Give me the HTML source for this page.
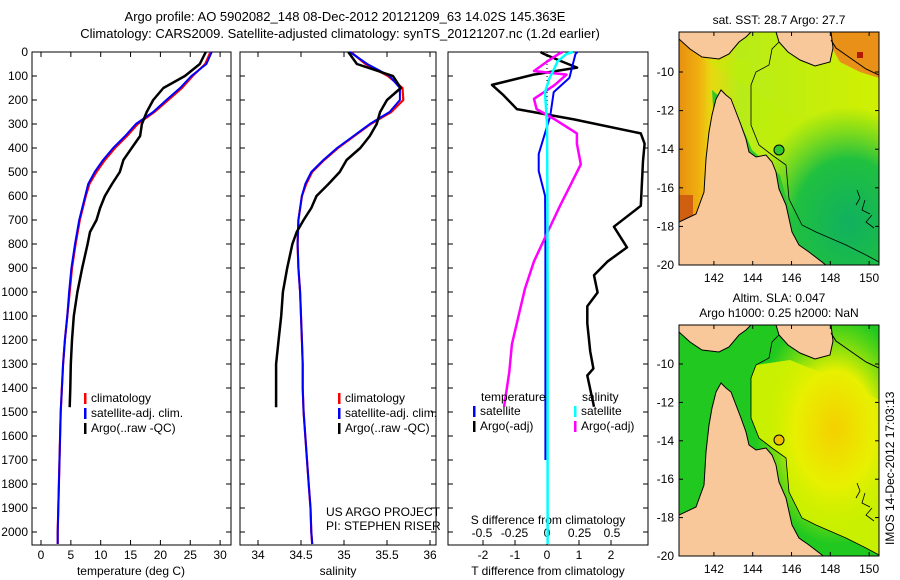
<!DOCTYPE html>
<html><head><meta charset="utf-8"><style>
body{margin:0;background:#fff}
svg{display:block;font-family:"Liberation Sans",sans-serif}
text{font-size:12px;fill:#000}
</style></head><body>
<svg id="c" width="900" height="580" viewBox="0 0 900 580">
<defs>
<linearGradient id="sstL" x1="0" x2="1" y1="0" y2="0"><stop offset="0" stop-color="#e89010"/><stop offset="0.1" stop-color="#f0b010"/><stop offset="0.16" stop-color="#e8d810"/><stop offset="0.3" stop-color="#b8ec18"/><stop offset="1" stop-color="#d0f000"/></linearGradient>
<radialGradient id="sstG" cx="0.85" cy="0.82" r="0.5"><stop offset="0" stop-color="#10b060"/><stop offset="0.55" stop-color="#20c040"/><stop offset="1" stop-color="#40c830" stop-opacity="0"/></radialGradient>
<radialGradient id="slaY" cx="0.72" cy="0.45" r="0.5"><stop offset="0" stop-color="#f4d000"/><stop offset="0.5" stop-color="#e8f000"/><stop offset="1" stop-color="#c0f000" stop-opacity="0"/></radialGradient>
<clipPath id="m1"><rect x="679" y="32" width="200" height="233"/></clipPath>
<clipPath id="m2"><rect x="679" y="325" width="200" height="231"/></clipPath>
</defs>
<text x="345" y="21" text-anchor="middle" style="font-size:13px">Argo profile: AO 5902082_148 08-Dec-2012 20121209_63 14.02S 145.363E</text>
<text x="340" y="38" text-anchor="middle" style="font-size:13px">Climatology: CARS2009. Satellite-adjusted climatology: synTS_20121207.nc (1.2d earlier)</text>
<g id="panels"></g>
<g id="maps">
 <g clip-path="url(#m1)">
  <rect x="679" y="32" width="200" height="233" fill="url(#sstL)"/>
  <path d="M705 60 L750 60 L752 125 L772 160 L790 200 L810 240 L879 262 L879 120 L800 120Z" fill="#c0f000" opacity="0.35"/>
  <path d="M712 90 L735 110 L752 150 L780 175 L795 230 L820 262 L790 262 L775 190 L745 160 L715 140Z" fill="#30c828"/>
  <rect x="679" y="32" width="200" height="233" fill="url(#sstG)"/>
  <rect x="679" y="195" width="14" height="30" fill="#d06010"/>
  <path d="M828 32 L879 32 L879 78 L860 72 L840 62 L832 48Z" fill="#e89018"/>
  <rect x="857" y="52" width="6" height="6" fill="#b01800"/>
  <g id="land1"></g>
  <circle cx="779" cy="150" r="5" fill="#30c830" stroke="#000" stroke-width="1"/>
 </g>
 <rect x="679" y="32" width="200" height="233" fill="none" stroke="#000"/>
 <g clip-path="url(#m2)">
  <rect x="679" y="325" width="200" height="231" fill="#20c820"/>
  <path d="M756 365 L751 378 L751 418 L759 438 L772 448 L786 458 L789 492 L802 518 L816 525 L846 538 L879 555 L879 400 L860 390 L820 372 L790 360Z" fill="#c8f000"/>
  <rect x="720" y="325" width="159" height="231" fill="url(#slaY)"/>
  <g transform="translate(0,293)" id="land2"></g>
  <circle cx="779" cy="440" r="5" fill="#f0c000" stroke="#000" stroke-width="1"/>
 </g>
 <rect x="679" y="325" width="200" height="231" fill="none" stroke="#000"/>
 <text x="779" y="24" text-anchor="middle">sat. SST: 28.7 Argo: 27.7</text>
 <text x="779" y="302" text-anchor="middle">Altim. SLA: 0.047</text>
 <text x="779" y="317" text-anchor="middle">Argo h1000: 0.25 h2000: NaN</text>
 <text transform="translate(894,545) rotate(-90)">IMOS 14-Dec-2012 17:03:13</text>
 <g id="mapaxes"></g>
</g>
</svg>
<script>
const NS='http://www.w3.org/2000/svg';
function mk(p,tag,a,txt){const e=document.createElementNS(NS,tag);for(const k in a)e.setAttribute(k,a[k]);if(txt!==undefined)e.textContent=txt;p.appendChild(e);return e;}
// ---- data ----
const depthTicks=[0,100,200,300,400,500,600,700,800,900,1000,1100,1200,1300,1400,1500,1600,1700,1800,1900,2000];
const tempTicks=[0,5,10,15,20,25,30];
const salTicks=[34,34.5,35,35.5,36];
const tdiffTicks=[-2,-1,0,1,2];
const sdiffTicks=[-0.5,-0.25,0,0.25,0.5];
const sdiffLabels=['-0.5','-0.25','0','0.25','0.5'];
const climDepth=[0,50,100,150,200,250,300,350,400,450,500,550,600,700,800,900,1000,1100,1200,1300,1400,1500,1600,1700,1800,1900,2000,2050];
const climTempBlue=[28.6,27.7,25.2,23.3,21.0,18.8,15.9,14.1,12.1,10.4,9.0,7.9,7.4,6.4,5.7,5.1,4.7,4.4,4.0,3.7,3.5,3.3,3.2,3.1,3.0,2.9,2.8,2.8];
const climTempRed=[28.4,27.5,25.4,23.6,21.3,19.0,16.2,14.4,12.4,10.7,9.3,8.1,7.5,6.5,5.8,5.2,4.8,4.4,4.0,3.7,3.5,3.3,3.2,3.1,3.0,2.9,2.8,2.8];
const climSalBlue=[35.07,35.27,35.53,35.65,35.65,35.53,35.30,35.11,34.92,34.76,34.62,34.55,34.51,34.47,34.46,34.47,34.49,34.50,34.51,34.52,34.52,34.53,34.55,34.57,34.59,34.61,34.62,34.63];
const climSalRed=[35.08,35.25,35.51,35.68,35.69,35.55,35.31,35.12,34.93,34.77,34.63,34.56,34.51,34.47,34.46,34.47,34.49,34.50,34.51,34.52,34.52,34.53,34.55,34.57,34.59,34.61,34.62,34.63];
const argoDepth=[0,50,100,150,200,250,300,350,400,450,500,550,600,650,700,750,800,900,1000,1100,1200,1300,1400,1480];
const argoTemp=[27.6,26.6,24.1,20.5,18.8,17.7,16.9,16.6,15.2,13.8,13.2,11.9,10.7,9.9,9.3,8.2,7.8,6.9,6.1,5.5,5.2,5.0,4.9,4.8];
const argoSal=[35.05,35.15,35.57,35.66,35.50,35.42,35.38,35.30,35.19,35.03,34.95,34.82,34.68,34.62,34.53,34.45,34.40,34.34,34.29,34.27,34.24,34.21,34.21,34.21];
const satTDepth=[0,8,65,108,167,267,425,496,600,800,1200,1700];
const satTDiff=[0.95,0.89,0.78,0.7,0.21,0.1,-0.26,-0.26,-0.06,-0.05,-0.05,-0.05];
const satSDepth=[0,8,40,65,108,167,300,600,1000,1500,2050];
const satSDiff=[0.2,0.15,0.08,0.06,0.02,-0.015,0,0.003,0.005,0.005,0.005];
const argoTDepth=[0,8,36,65,94,137,180,238,281,339,382,454,641,728,814,872,930,1002,1059,1131,1247,1319,1348,1478];
const argoTDiff=[-0.2,-0.1,0.4,0.94,-0.42,-1.72,-1.36,-0.94,0.84,2.93,3.05,3.0,2.93,2.09,2.5,1.9,1.47,1.58,1.26,1.26,1.35,1.45,1.26,1.47];
const argoSDepth=[0,8,40,79,94,137,195,238,281,339,382,468,555,641,756,872,987,1102,1218,1333,1478];
const argoSDiff=[0.12,0.09,0.0,-0.10,0.15,0.06,-0.10,-0.08,0.06,0.23,0.23,0.26,0.18,0.10,0.0,-0.10,-0.17,-0.22,-0.27,-0.29,-0.33];
// ---- axes ----
const yTop=52,yBot=545;
const yD=d=>yTop+d*0.24;
const P1={l:32,r:231,x:v=>41+v*5.97};
const P2={l:240,r:436,x:v=>258+(v-34)*86};
const P3={l:448,r:648,x:v=>547+v*32,xs:v=>547+v*130};
const g=document.getElementById('panels');
function line(xs,ys,fx,col,w,name){
 let d='';xs.forEach((v,i)=>{d+=(i?'L':'M')+fx(v).toFixed(1)+' '+yD(ys[i]).toFixed(1);});
 const p=mk(g,'path',{d:d,fill:'none',stroke:col,'stroke-width':w,'stroke-linejoin':'round'});
 
 
}
[P1,P2,P3].forEach((P,i)=>{
 const r=mk(g,'rect',{x:P.l,y:yTop,width:P.r-P.l,height:yBot-yTop,fill:'none',stroke:'#000'});
 
 
 depthTicks.forEach(d=>{mk(g,'line',{x1:P.l,x2:P.l+5,y1:yD(d),y2:yD(d),stroke:'#000'});mk(g,'line',{x1:P.r-5,x2:P.r,y1:yD(d),y2:yD(d),stroke:'#000'});});
});
depthTicks.forEach(d=>{const t=mk(g,'text',{x:28,y:yD(d)+4,'text-anchor':'end'},String(d));
 
 });
tempTicks.forEach(v=>{mk(g,'line',{x1:P1.x(v),x2:P1.x(v),y1:yBot,y2:yBot-5,stroke:'#000'});mk(g,'line',{x1:P1.x(v),x2:P1.x(v),y1:yTop,y2:yTop+5,stroke:'#000'});
 const t=mk(g,'text',{x:P1.x(v),y:559,'text-anchor':'middle'},String(v));
 
 });
salTicks.forEach(v=>{mk(g,'line',{x1:P2.x(v),x2:P2.x(v),y1:yBot,y2:yBot-5,stroke:'#000'});mk(g,'line',{x1:P2.x(v),x2:P2.x(v),y1:yTop,y2:yTop+5,stroke:'#000'});
 const t=mk(g,'text',{x:P2.x(v),y:559,'text-anchor':'middle'},String(v));
 
 });
tdiffTicks.forEach(v=>{mk(g,'line',{x1:P3.x(v),x2:P3.x(v),y1:yBot,y2:yBot-5,stroke:'#000'});
 const t=mk(g,'text',{x:P3.x(v),y:559,'text-anchor':'middle'},String(v));
 
 });
sdiffTicks.forEach((v,i)=>{const t=mk(g,'text',{x:P3.xs(v),y:537,'text-anchor':'middle'},sdiffLabels[i]);
 
 });
[[131,'temperature (deg C)','x-axis-title-temp'],[338,'salinity','x-axis-title-sal'],[548,'T difference from climatology','x-axis-title-tdiff']].forEach(a=>{
 const t=mk(g,'text',{x:a[0],y:575,'text-anchor':'middle'},a[1]);
 
 });
const st=mk(g,'text',{x:548,y:524,'text-anchor':'middle'},'S difference from climatology');


mk(g,'line',{x1:547,x2:547,y1:yTop,y2:yD(450),stroke:'#000','stroke-dasharray':'1 3'});
line(climTempRed,climDepth,P1.x,'#f00',2.2,'temp-climatology-line');
line(climTempBlue,climDepth,P1.x,'#00f',2,'temp-satellite-adj-line');
line(argoTemp,argoDepth,P1.x,'#000',2.5,'temp-argo-line');
line(climSalRed,climDepth,P2.x,'#f00',2.2,'sal-climatology-line');
line(climSalBlue,climDepth,P2.x,'#00f',2,'sal-satellite-adj-line');
line(argoSal,argoDepth,P2.x,'#000',2.5,'sal-argo-line');
line(argoTDiff,argoTDepth,P3.x,'#000',2.5,'tdiff-argo-line');
line(satTDiff,satTDepth,P3.x,'#00f',2,'tdiff-satellite-line');
line(argoSDiff,argoSDepth,P3.xs,'#f0f',2.5,'sdiff-argo-line');
line(satSDiff,satSDepth,P3.xs,'#0ff',2.5,'sdiff-satellite-line');
function leg(x,y,col,label,name){mk(g,'rect',{x:x,y:y-9,width:2.5,height:11,fill:col});
 const t=mk(g,'text',{x:x+7,y:y},label);
 
 }
leg(84,402,'#f00','climatology','legend-climatology');
leg(84,417,'#00f','satellite-adj. clim.','legend-satellite-adj');
leg(84,432,'#000','Argo(..raw -QC)','legend-argo');
leg(338,402,'#f00','climatology','legend2-climatology');
leg(338,417,'#00f','satellite-adj. clim.','legend2-satellite-adj');
leg(338,432,'#000','Argo(..raw -QC)','legend2-argo');
mk(g,'text',{x:481,y:401},'temperature');
mk(g,'text',{x:582,y:401},'salinity');
leg(473,415,'#00f','satellite','legend-t-satellite');
leg(473,430,'#000','Argo(-adj)','legend-t-argo');
leg(574,415,'#0ff','satellite','legend-s-satellite');
leg(574,430,'#f0f','Argo(-adj)','legend-s-argo');
mk(g,'text',{x:326,y:516},'US ARGO PROJECT');
mk(g,'text',{x:326,y:530},'PI: STEPHEN RISER');
// map shapes (pixel coords in top map)
const coast='M679 222 L696 214 L704 192 L706 159 L709 132 L712 115 L716 99 L721 90 L726 95 L731 99 L736 112 L741 125 L746 139 L749 152 L756 157 L766 155 L772 162 L776 172 L779 189 L786 205 L792 232 L799 245 L809 252 L822 262 L827 266 L679 266Z';
const png1='M679 32 L679 39 L690 49 L702 57 L719 59 L729 54 L739 42 L746 37 L751 32Z';
const png2='M776 32 L831 32 L833 48 L830 62 L815 66 L800 60 L788 52 L779 42Z';
const coast2='M831 40 L836 48 L846 55 L856 62 L866 69 L879 75';
const shelf='M779 42 L772 49 L769 65 L756 72 L751 85 L751 125 L759 145 L772 155 L786 165 L789 199 L802 225 L816 232 L846 245 L866 255 L879 262';
const reef='M857 190 L860 198 L856 205 M865 200 L862 210 L870 214 M872 215 L866 222 L874 228';
['land1','land2'].forEach(id=>{const L=document.getElementById(id);
 [coast,png1,png2].forEach(d=>{const p=mk(L,'path',{d:d,fill:'#f9c89a',stroke:'#000','stroke-width':1});
  
  });
 mk(L,'path',{d:coast2,fill:'none',stroke:'#000','stroke-width':1});
 mk(L,'path',{d:shelf,fill:'none',stroke:'#000','stroke-width':0.8});
 mk(L,'path',{d:reef,fill:'none',stroke:'#000','stroke-width':0.8});
});
const ma=document.getElementById('mapaxes');
const lonTicks=[142,144,146,148,150];
const latTicks=[-10,-12,-14,-16,-18,-20];
const lx=v=>679+(v-140.2)*19.4;
[[32,265,72,19.3],[325,556,364,19.2]].forEach((m,k)=>{
 lonTicks.forEach(v=>{mk(ma,'line',{x1:lx(v),x2:lx(v),y1:m[1],y2:m[1]-4,stroke:'#000'});mk(ma,'line',{x1:lx(v),x2:lx(v),y1:m[0],y2:m[0]+4,stroke:'#000'});
  const t=mk(ma,'text',{x:lx(v),y:m[1]+17,'text-anchor':'middle'},String(v));
  
  });
 latTicks.forEach(v=>{const y=m[2]+(-10-v)*m[3];mk(ma,'line',{x1:679,x2:683,y1:y,y2:y,stroke:'#000'});mk(ma,'line',{x1:875,x2:879,y1:y,y2:y,stroke:'#000'});
  const t=mk(ma,'text',{x:674,y:y+4,'text-anchor':'end'},String(v));
  
  });
});
</script>
</body></html>
